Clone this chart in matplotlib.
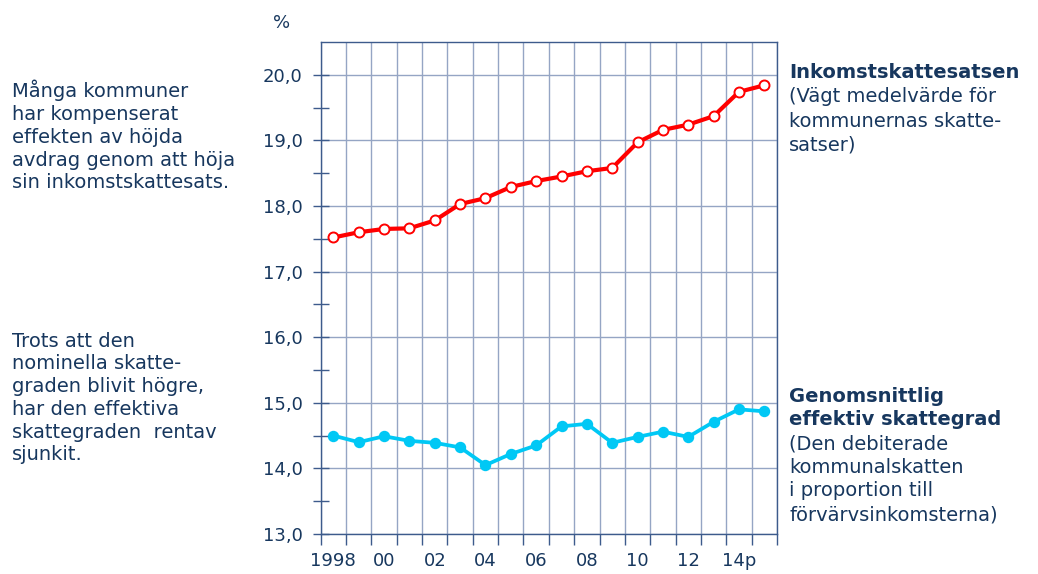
import matplotlib.pyplot as plt
from matplotlib.ticker import FixedLocator, MultipleLocator, FuncFormatter

years = list(range(1998, 2016))
inkomstskattesats = [17.52, 17.60, 17.65, 17.66, 17.78, 18.03, 18.12, 18.29, 18.38,
                     18.45, 18.53, 18.58, 18.97, 19.16, 19.24, 19.37, 19.74, 19.84]
effektiv_skattegrad = [14.50, 14.40, 14.49, 14.42, 14.39, 14.32, 14.05, 14.22, 14.35,
                       14.64, 14.68, 14.39, 14.48, 14.56, 14.48, 14.71, 14.90, 14.87]
tick_years = [1998, 2000, 2002, 2004, 2006, 2008, 2010, 2012, 2014]
tick_labels = ['1998', '00', '02', '04', '06', '08', '10', '12', '14p']

plt.rcParams['font.family'] = ['DejaVu Sans']

W, H = 1038, 574
navy = '#17375e'
grid_col = '#95a5c4'
spine_col = '#3d5b8c'

fig = plt.figure(figsize=(W / 100, H / 100), dpi=100)
ax = fig.add_axes([320.7 / W, 1 - 534 / H, (777 - 320.7) / W, (534 - 42) / H])

ax.plot(years, inkomstskattesats, color='#ff0000', lw=3.0, marker='o', ms=7.2,
        mfc='white', mec='#ff0000', mew=1.4, zorder=3)
ax.plot(years, effektiv_skattegrad, color='#00c8f5', lw=2.7, marker='o', ms=7.2,
        mfc='#00c8f5', mec='#00c8f5', zorder=3)

ax.set_xlim(1997.5, 2015.5)
ax.set_ylim(13, 20.5)

# gridlines between years, labels on even years
ax.xaxis.set_major_locator(FixedLocator(tick_years))
ax.xaxis.set_major_formatter(FuncFormatter(lambda v, p: tick_labels[tick_years.index(int(round(v)))]))
ax.xaxis.set_minor_locator(FixedLocator([y + 0.5 for y in range(1997, 2016)]))
ax.tick_params(axis='x', which='major', length=0, pad=13, labelsize=13, labelcolor=navy)
ax.tick_params(axis='x', which='minor', direction='out', length=8, width=1, color=spine_col)
ax.grid(True, axis='x', which='minor', color=grid_col, lw=1)

ax.yaxis.set_major_locator(MultipleLocator(1))
ax.yaxis.set_minor_locator(FixedLocator([v + 0.5 for v in range(13, 20)]))
ax.yaxis.set_major_formatter(FuncFormatter(lambda v, p: f'{v:.1f}'.replace('.', ',')))
ax.tick_params(axis='y', which='both', direction='inout', length=12, width=1, color=spine_col,
               pad=7, labelsize=13, labelcolor=navy)
ax.grid(True, axis='y', which='major', color=grid_col, lw=1)

for s in ax.spines.values():
    s.set_color(spine_col)
    s.set_linewidth(1)

fig.text(282 / W, 1 - 23 / H, '%', ha='center', va='center', fontsize=13, color=navy)


def put_lines(x, y0, step, lines, size=14):
    for i, (txt, bold) in enumerate(lines):
        fig.text(x / W, 1 - (y0 + i * step) / H, txt, ha='left', va='baseline',
                 fontsize=size, color=navy, fontweight='bold' if bold else 'normal')


put_lines(11.5, 97.3, 22.75, [('Många kommuner', False), ('har kompenserat', False),
                              ('effekten av höjda', False), ('avdrag genom att höja', False),
                              ('sin inkomstskattesats.', False)])
put_lines(11.5, 346.7, 22.7, [('Trots att den', False), ('nominella skatte-', False),
                              ('graden blivit högre,', False), ('har den effektiva', False),
                              ('skattegraden  rentav', False), ('sjunkit.', False)])
put_lines(789, 78.3, 24.2, [('Inkomstskattesatsen', True), ('(Vägt medelvärde för', False),
                            ('kommunernas skatte-', False), ('satser)', False)])
put_lines(789, 401.7, 23.7, [('Genomsnittlig', True), ('effektiv skattegrad', True),
                             ('(Den debiterade', False), ('kommunalskatten', False),
                             ('i proportion till', False), ('förvärvsinkomsterna)', False)])

fig.savefig('out.png', dpi=100)
